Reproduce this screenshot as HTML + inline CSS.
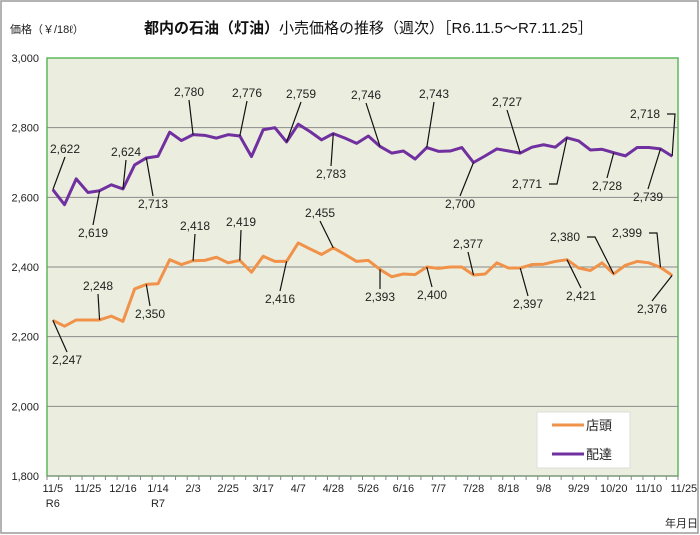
<!DOCTYPE html>
<html><head><meta charset="utf-8">
<style>
html,body{margin:0;padding:0;background:#fff;}
svg{display:block;font-family:"Liberation Sans","Noto Sans CJK JP",sans-serif;}
</style></head>
<body>
<svg id="chart" width="700" height="535" viewBox="0 0 700 535" xmlns="http://www.w3.org/2000/svg">
<rect x="1" y="1" width="697" height="532" fill="#fff" stroke="#9a9a9a" stroke-width="1.5"/>
<text x="10" y="33" font-size="11" fill="#222">価格（￥/18ℓ）</text>
<text x="144" y="33" font-size="15" fill="#111"><tspan font-weight="bold">都内の石油（灯油）</tspan><tspan>小売価格の推移（週次）［R6.11.5～R7.11.25］</tspan></text>
<rect x="47" y="58" width="631" height="418" fill="#ebeedf" stroke="#5cb85c" stroke-width="1.5"/>
<g id="grid"></g><g id="axes"></g><g id="series"></g><g id="annot"></g>
<g>
<rect x="537" y="412" width="93" height="56" fill="#fff" stroke="#ddd"/>
<line x1="552" y1="425" x2="584" y2="425" stroke="#f0924a" stroke-width="3"/>
<text x="586" y="430" font-size="13" fill="#222">店頭</text>
<line x1="552" y1="454" x2="584" y2="454" stroke="#7030a0" stroke-width="3"/>
<text x="586" y="459" font-size="13" fill="#222">配達</text>
</g>
<text x="665" y="527" font-size="11" fill="#222">年月日</text>
</svg>
<script>
const storefront=[2247,2230,2248,2248,2248,2259,2244,2337,2350,2352,2421,2407,2418,2419,2428,2412,2419,2385,2431,2416,2416,2469,2452,2436,2455,2436,2416,2419,2393,2372,2380,2378,2400,2396,2400,2400,2377,2380,2412,2397,2397,2407,2408,2416,2421,2397,2390,2412,2380,2405,2416,2412,2399,2376];
const delivery=[2622,2579,2653,2614,2619,2636,2624,2693,2713,2718,2787,2763,2780,2778,2770,2780,2776,2717,2794,2800,2759,2810,2789,2765,2783,2770,2755,2776,2746,2727,2733,2710,2743,2732,2733,2743,2700,2719,2739,2733,2727,2744,2751,2744,2771,2762,2736,2738,2728,2719,2743,2743,2739,2718];
const xLabels=["11/5","11/25","12/16","1/14","2/3","2/25","3/17","4/7","4/28","5/26","6/16","7/7","7/28","8/18","9/8","9/29","10/20","11/10","11/25"];
const yTicks=[1800,2000,2200,2400,2600,2800,3000];
// [index, labelX, labelY, bend]
const annDelivery=[[0,65,153,0],[4,93,237,0],[6,126,156,0],[8,153,208,0],[12,189,96,0],[16,247,97,0],[20,301,98,0],[24,331,178,0],[28,366,99,0],[32,434,98,0],[40,507,106,0],[36,460,208,0],[44,527,188,1],[48,607,190,0],[52,648,201,0],[53,645,118,1]];
const annStore=[[0,67,364,0],[4,98,290,0],[8,150,318,0],[12,195,230,0],[16,241,226,0],[20,280,303,0],[24,320,217,0],[28,380,301,0],[32,432,299,0],[36,468,248,0],[40,528,308,0],[44,581,300,0],[48,565,241,1],[52,627,237,1],[53,652,313,0]];
const NS="http://www.w3.org/2000/svg";
const L=47,R=678,T=58,B=476,N=delivery.length;
const step=(R-L)/N;
const xs=i=>L+(i+0.5)*step;
const ys=v=>B-(v-1800)/1200*(B-T);
function mk(tag,attrs,parent){const e=document.createElementNS(NS,tag);for(const k in attrs)e.setAttribute(k,attrs[k]);parent.appendChild(e);return e;}
const grid=document.getElementById('grid'),axes=document.getElementById('axes'),ser=document.getElementById('series'),ann=document.getElementById('annot');
yTicks.forEach(v=>{
 if(v>1800&&v<3000){const g=mk('line',{x1:L,x2:R,y1:ys(v),y2:ys(v),stroke:'#8a8a8a','stroke-width':1},grid);
 
 }
 const t=mk('text',{x:L-8,y:ys(v)+4,'font-size':11,'text-anchor':'end',fill:'#222'},axes);
 t.textContent=v.toLocaleString('en-US');
 
 
});
const ax=mk('line',{x1:L,x2:R,y1:B,y2:B,stroke:'#888'},axes);


for(let i=0;i<=N;i++){const tk=mk('line',{x1:L+i*step,x2:L+i*step,y1:B,y2:B+4,stroke:'#888'},axes);
 
 }
xLabels.forEach((s,k)=>{const t=mk('text',{x:xs(k*3),y:B+16,'font-size':11,'text-anchor':'middle',fill:'#222'},axes);
 t.textContent=s;
 
 });
[["R6",0],["R7",3]].forEach(([s,k])=>{const t=mk('text',{x:xs(k*3),y:B+31,'font-size':11,'text-anchor':'middle',fill:'#222'},axes);
 t.textContent=s;
 
 });
function line(arr,color,name){const p=mk('polyline',{points:arr.map((v,i)=>xs(i)+','+ys(v)).join(' '),fill:'none',stroke:color,'stroke-width':3,'stroke-linejoin':'round'},ser);
 
 }
line(storefront,'#f0924a','storefront-line');
line(delivery,'#7030a0','delivery-line');
function annotate(list,arr,name){list.forEach(([i,lx,ly,bend])=>{
 const px=xs(i),py=ys(arr[i]);
 let pts;
 if(bend){const sx=lx+22,sy=ly-4;pts=[[sx,sy],[sx+8,sy],[px,py]];}
 else{const ey=ly<py?ly+4:ly-12;pts=[[lx,ey],[px,py]];}
 const l=mk('polyline',{points:pts.map(p=>p.join(',')).join(' '),fill:'none',stroke:'#111','stroke-width':1.2},ann);
 
 
 const t=mk('text',{x:lx,y:ly,'font-size':12,'text-anchor':'middle',fill:'#222'},ann);
 t.textContent=arr[i].toLocaleString('en-US');
 
 
});}
annotate(annDelivery,delivery,'delivery-annotation');
annotate(annStore,storefront,'storefront-annotation');
</script>
</body></html>
